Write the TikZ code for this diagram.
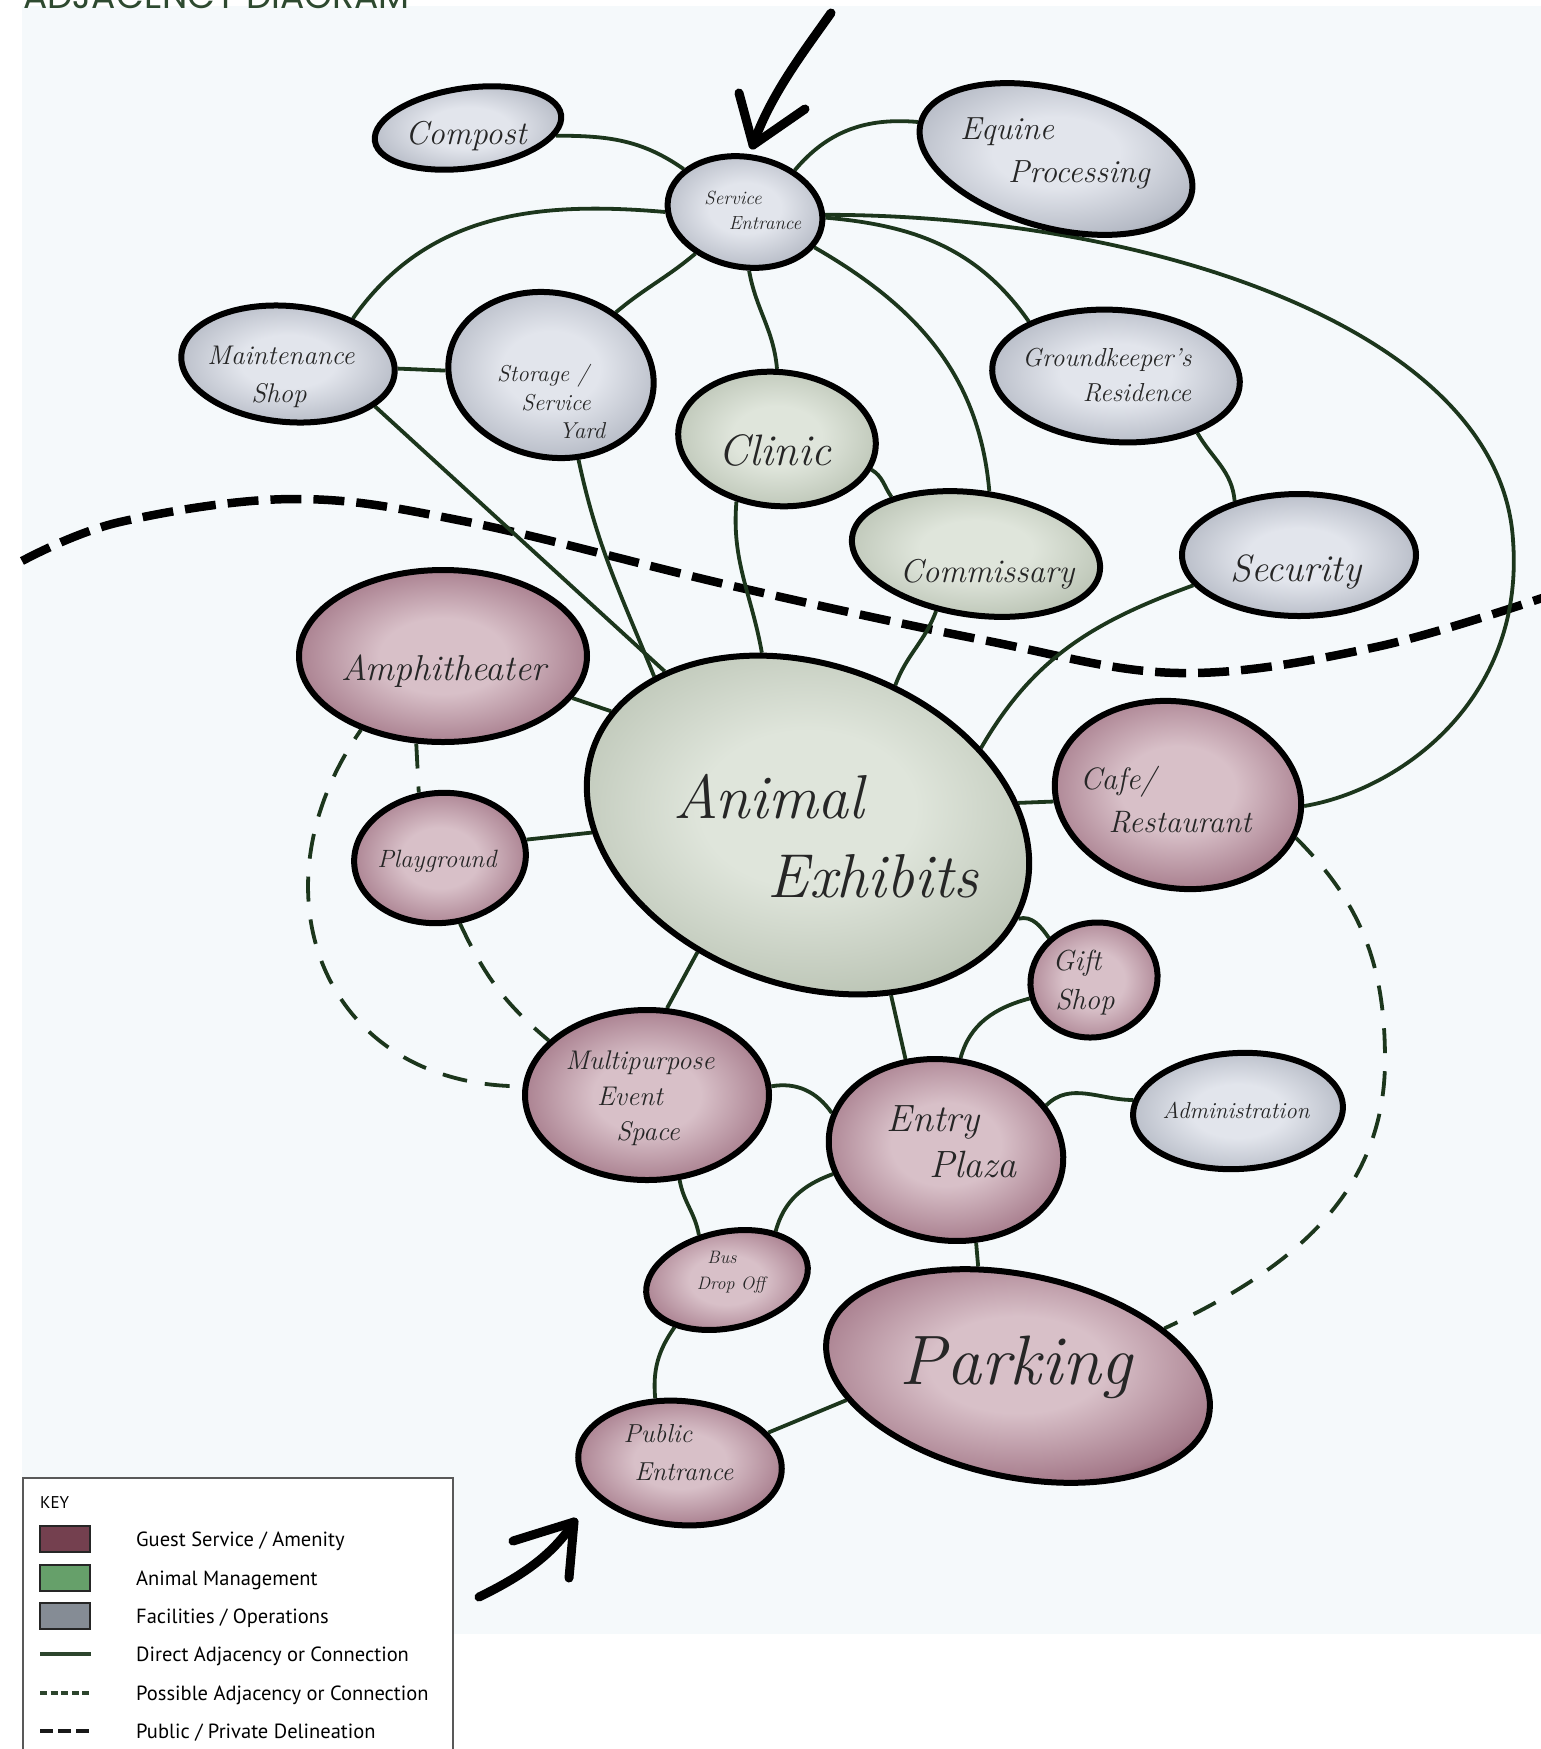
\documentclass[tikz,border=0pt]{standalone}
\usepackage{fontspec}
\newfontfamily\keyfont{PT Sans}
\newfontfamily\titlefont{Poppins}
\usetikzlibrary{shapes.geometric,calc}
\definecolor{scanbg}{HTML}{F5F9FB}
\definecolor{conngreen}{HTML}{1C361C}
\definecolor{keygreen}{HTML}{2D452D}
\definecolor{gIn}{HTML}{D8C0C8}\definecolor{gMid}{HTML}{A57A8A}\definecolor{gOut}{HTML}{62303F}
\definecolor{aIn}{HTML}{DFE5DB}\definecolor{aMid}{HTML}{BCC5B6}\definecolor{aOut}{HTML}{707B69}
\definecolor{fIn}{HTML}{E2E5EC}\definecolor{fMid}{HTML}{B5BAC5}\definecolor{fOut}{HTML}{676D79}
\definecolor{titlegreen}{HTML}{2E4A30}
\definecolor{inkc}{HTML}{262626}
\definecolor{keyguest}{HTML}{74404F}
\definecolor{keyanim}{HTML}{66A06A}
\definecolor{keyfacil}{HTML}{858C95}
\pgfdeclareradialshading{guestshade}{\pgfpoint{0bp}{0bp}}{color(0bp)=(gIn); color(11bp)=(gIn); color(27bp)=(gMid); color(35.4bp)=(gOut); color(50bp)=(gOut)}
\pgfdeclareradialshading{animshade}{\pgfpoint{0bp}{0bp}}{color(0bp)=(aIn); color(11bp)=(aIn); color(27bp)=(aMid); color(35.4bp)=(aOut); color(50bp)=(aOut)}
\pgfdeclareradialshading{facilshade}{\pgfpoint{0bp}{0bp}}{color(0bp)=(fIn); color(11bp)=(fIn); color(27bp)=(fMid); color(35.4bp)=(fOut); color(50bp)=(fOut)}
\pgfdeclarelayer{bg}
\pgfsetlayers{bg,main}
\newcommand\hsz[1]{\fontsize{#1}{#1}\selectfont\itshape}
\tikzset{
  bub/.style={ellipse, draw=black, line width=6pt, inner sep=0pt, shade},
  guest/.style={bub, shading=guestshade},
  anim/.style={bub, shading=animshade},
  facil/.style={bub, shading=facilshade},
  conn/.style={draw=conngreen, line width=3.8pt},
  maybe/.style={draw=conngreen, line width=3.8pt, dash pattern=on 25pt off 18pt},
  delin/.style={draw=black, line width=8.5pt, dash pattern=on 31pt off 12pt},
  hand/.style={text=inkc, inner sep=0pt, anchor=base},
  bigarrow/.style={draw=black, line width=9pt, line cap=round, line join=round},
  keylbl/.style={font=\keyfont\fontsize{20.5}{20.5}\selectfont, text=black, inner sep=0pt, anchor=base west},
  swatch/.style={draw=black!85, line width=2pt, minimum width=50pt, minimum height=26pt, inner sep=0pt},
}
\begin{document}
\begin{tikzpicture}[x=1pt,y=1pt]
\useasboundingbox (0,0) rectangle (1541,-1749);
\begin{pgfonlayer}{bg}
\fill[white] (0,0) rectangle (1541,-1749);
\fill[scanbg] (22,-6) rectangle (1541,-1634);
\end{pgfonlayer}

% title (mostly cut off at the top edge, as in the scan)
\node[anchor=base west, inner sep=0pt, text=titlegreen, font=\titlefont\fontsize{36}{36}\selectfont] (title) at (23,-8) {ADJACENCY DIAGRAM};

% bubbles
\node[facil, minimum width=188pt, minimum height=80pt, rotate=8] (compost) at (468,-128) {};
\node[facil, minimum width=156pt, minimum height=110pt, rotate=-10] (service) at (745,-212) {};
\node[facil, minimum width=280pt, minimum height=138pt, rotate=-15] (equine) at (1056,-159) {};
\node[facil, minimum width=214pt, minimum height=116pt, rotate=-5] (maint) at (288,-364) {};
\node[facil, minimum width=207pt, minimum height=164pt, rotate=-12] (storage) at (551,-375) {};
\node[anim, minimum width=198pt, minimum height=134pt, rotate=-5] (clinic) at (777,-439) {};
\node[facil, minimum width=248pt, minimum height=132pt, rotate=-4] (ground) at (1116,-376) {};
\node[anim, minimum width=250pt, minimum height=122pt, rotate=-8] (comm) at (976,-554) {};
\node[facil, minimum width=234pt, minimum height=122pt] (security) at (1299,-555) {};
\node[guest, minimum width=288pt, minimum height=172pt] (amph) at (443,-656) {};
\node[anim, minimum width=456pt, minimum height=320pt, rotate=-20] (animal) at (808,-825) {};
\node[guest, minimum width=248pt, minimum height=186pt, rotate=-10] (cafe) at (1178,-795) {};
\node[guest, minimum width=172pt, minimum height=130pt, rotate=5] (play) at (440,-858) {};
\node[guest, minimum width=128pt, minimum height=114pt, rotate=15] (gift) at (1094,-980) {};
\node[guest, minimum width=244pt, minimum height=170pt] (multi) at (647,-1095) {};
\node[guest, minimum width=236pt, minimum height=180pt, rotate=-10] (entry) at (946,-1150) {};
\node[facil, minimum width=210pt, minimum height=116pt, rotate=3] (admin) at (1238,-1111) {};
\node[guest, minimum width=164pt, minimum height=96pt, rotate=12] (bus) at (727,-1280) {};
\node[guest, minimum width=390pt, minimum height=202pt, rotate=-12] (parking) at (1018,-1376) {};
\node[guest, minimum width=204pt, minimum height=124pt, rotate=-5] (public) at (680,-1463) {};

% handwritten labels
\node[hand, font=\hsz{33}] (compost-t) at (466,-144) {Compost};
\node[hand, font=\hsz{19}] (service-t1) at (733,-204) {Service};
\node[hand, font=\hsz{19}] (service-t2) at (765,-229) {Entrance};
\node[hand, font=\hsz{32}] (equine-t1) at (1007,-139) {Equine};
\node[hand, font=\hsz{32}] (equine-t2) at (1079,-182) {Processing};
\node[hand, font=\hsz{27}] (maint-t1) at (281,-364) {Maintenance};
\node[hand, font=\hsz{27}] (maint-t2) at (279,-402) {Shop};
\node[hand, font=\hsz{23}] (storage-t1) at (543,-381) {Storage /};
\node[hand, font=\hsz{23}] (storage-t2) at (556,-410) {Service};
\node[hand, font=\hsz{23}] (storage-t3) at (582,-438) {Yard};
\node[hand, font=\hsz{44}] (clinic-t) at (775,-465) {Clinic};
\node[hand, font=\hsz{26}] (ground-t1) at (1107,-366) {Groundkeeper's};
\node[hand, font=\hsz{26}] (ground-t2) at (1137,-401) {Residence};
\node[hand, font=\hsz{33}] (comm-t) at (987,-582) {Commissary};
\node[hand, font=\hsz{38}] (security-t) at (1296,-581) {Security};
\node[hand, font=\hsz{36}] (amph-t) at (444,-680) {Amphitheater};
\node[hand, font=\hsz{62}] (animal-t1) at (769,-818) {Animal};
\node[hand, font=\hsz{62}] (animal-t2) at (873,-897) {Exhibits};
\node[hand, font=\hsz{31}] (cafe-t1) at (1118,-789) {Cafe/};
\node[hand, font=\hsz{31}] (cafe-t2) at (1180,-832) {Restaurant};
\node[hand, font=\hsz{25}] (play-t) at (437,-867) {Playground};
\node[hand, font=\hsz{29}] (gift-t1) at (1077,-970) {Gift};
\node[hand, font=\hsz{29}] (gift-t2) at (1085,-1009) {Shop};
\node[hand, font=\hsz{27}] (multi-t1) at (640,-1069) {Multipurpose};
\node[hand, font=\hsz{27}] (multi-t2) at (630,-1105) {Event};
\node[hand, font=\hsz{27}] (multi-t3) at (648,-1140) {Space};
\node[hand, font=\hsz{38}] (entry-t1) at (933,-1131) {Entry};
\node[hand, font=\hsz{38}] (entry-t2) at (973,-1177) {Plaza};
\node[hand, font=\hsz{23}] (admin-t) at (1236,-1118) {Administration};
\node[hand, font=\hsz{18}] (bus-t1) at (722,-1263) {Bus};
\node[hand, font=\hsz{18}] (bus-t2) at (731,-1289) {Drop Off};
\node[hand, font=\hsz{70}] (parking-t) at (1016,-1384) {Parking};
\node[hand, font=\hsz{26}] (public-t1) at (658,-1442) {Public};
\node[hand, font=\hsz{26}] (public-t2) at (684,-1480) {Entrance};

\coordinate (arcR) at (1513,-540);
\coordinate (arcR2) at (1385,-1060);

\begin{pgfonlayer}{bg}
% public / private delineation
\draw[delin] plot[smooth, tension=0.6] coordinates {(22,-561) (120,-522) (295,-499) (468,-522) (737,-587) (983,-640) (1179,-673) (1376,-647) (1560,-592)};
% direct connections
\draw[conn] (compost.-13) to[out=0,in=145] (service.155);
\draw[conn] (service.50) to[out=50,in=175] (equine.180);
\draw[conn] (service.190) to[out=175,in=55] (maint.40);
\draw[conn] (service.230) to[out=220,in=40] (storage.56);
\draw[conn] (service.-76) to[out=-80,in=95] (clinic.95);
\draw[conn] (service.-17) to[out=-30,in=95] (comm.86);
\draw[conn] (service.6) to[out=-5,in=125] (ground.152);
\draw[conn] (service.8) .. controls (1150,-215) and (1500,-330) .. (arcR) .. controls (1525,-700) and (1400,-790) .. (cafe.5);
\draw[conn] (maint) -- (storage);
\draw[conn] (maint.-21) -- (animal.153);
\draw[conn] (storage.-60) to[out=-78,in=112] (animal.156);
\draw[conn] (clinic.242) to[out=-95,in=100] (animal.125);
\draw[conn] (clinic.-13) to[out=-30,in=125] (comm.154);
\draw[conn] (ground.-31) to[out=-60,in=95] (security.140);
\draw[conn] (comm.243) to[out=-110,in=70] (animal.78);
\draw[conn] (security.196) to[out=200,in=60] (animal.44);
\draw[conn] (amph.-18) -- (animal.170);
\draw[conn] (play.7) -- (animal.202);
\draw[conn] (cafe.193) -- (animal.26);
\draw[conn] (animal.-4) to[out=15,in=125] (gift.122);
\draw[conn] (animal.249) -- (multi.77);
\draw[conn] (animal.-44) -- (entry.124);
\draw[conn] (gift.181) to[out=195,in=75] (entry.91);
\draw[conn] (multi.4) to[out=10,in=125] (entry.172);
\draw[conn] (entry.34) to[out=45,in=180] (admin.171);
\draw[conn] (multi.-69) to[out=-80,in=100] (bus.110);
\draw[conn] (entry.202) to[out=200,in=75] (bus.33);
\draw[conn] (entry.-62) -- (parking.122);
\draw[conn] (bus.210) to[out=235,in=95] (public.116);
\draw[conn] (public.24) -- (parking.200);
% possible connections
\draw[maybe] (amph.-107) -- (play.103);
\draw[maybe, dash phase=14pt] (amph.222) to[out=235,in=180,looseness=1.3] (multi.176);
\draw[maybe] (play.-78) to[out=-65,in=140] (multi.151);
\draw[maybe] (cafe.-10) to[out=-45,in=90] (arcR2) to[out=-90,in=25] (parking.30);
\end{pgfonlayer}

% entry arrows
\draw[bigarrow] (831,-13) .. controls (805,-50) and (770,-95) .. (753,-145);
\draw[bigarrow] (739,-93) -- (753,-145) -- (805,-109);
\draw[bigarrow] (479,-1597) .. controls (520,-1577) and (552,-1556) .. (574,-1522);
\draw[bigarrow] (513,-1541) -- (574,-1522) -- (569,-1578);

% key
\draw[fill=white, draw=black!65, line width=1.3pt] (23,-1478) rectangle (453,-1765);
\node[font=\keyfont\fontsize{17}{17}\selectfont, inner sep=0pt, anchor=base west] (keyttl) at (40,-1508) {KEY};
\node[swatch, fill=keyguest] (swg) at (65,-1539) {};
\node[swatch, fill=keyanim] (swa) at (65,-1578) {};
\node[swatch, fill=keyfacil] (swf) at (65,-1616) {};
\coordinate (l1a) at (40,-1654); \coordinate (l1b) at (91,-1654);
\coordinate (l2a) at (40,-1693); \coordinate (l2b) at (91,-1693);
\coordinate (l3a) at (40,-1731); \coordinate (l3b) at (91,-1731);
\draw[draw=keygreen, line width=4.5pt] (l1a) -- (l1b);
\draw[draw=keygreen, line width=4.5pt, dash pattern=on 7pt off 3.6pt] (l2a) -- (l2b);
\draw[draw=black!90, line width=4.5pt, dash pattern=on 13pt off 5pt] (l3a) -- (l3b);
\node[keylbl] (kg) at (136,-1546) {Guest Service / Amenity};
\node[keylbl] (ka) at (136,-1585) {Animal Management};
\node[keylbl] (kf) at (136,-1623) {Facilities / Operations};
\node[keylbl] (kd) at (136,-1661) {Direct Adjacency or Connection};
\node[keylbl] (kp) at (136,-1700) {Possible Adjacency or Connection};
\node[keylbl] (kl) at (136,-1738) {Public / Private Delineation};
\end{tikzpicture}
\end{document}
